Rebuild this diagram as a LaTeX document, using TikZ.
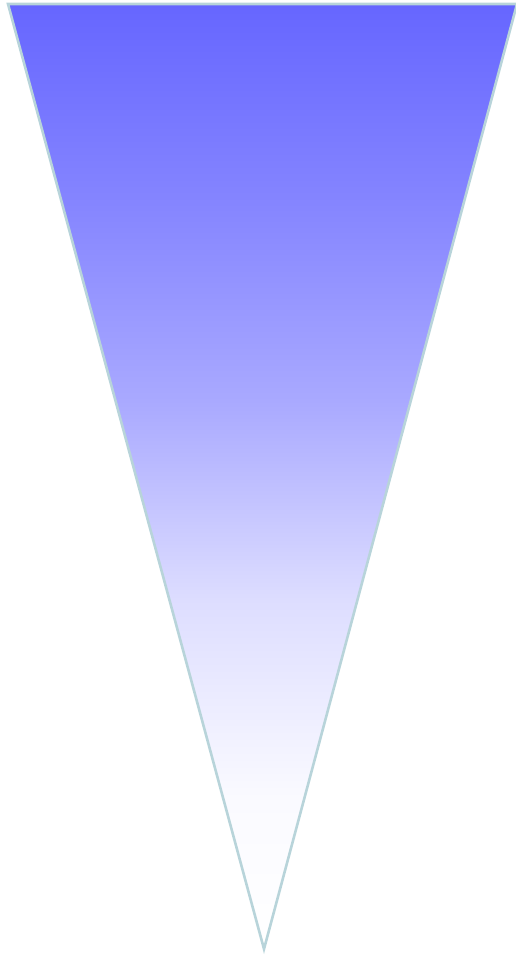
\documentclass[tikz,border=0pt]{standalone}
\usepackage{tikz}
\definecolor{topblue}{HTML}{6666FF}
\definecolor{edgecol}{HTML}{B8D4DA}
\definecolor{gA}{HTML}{FAFAFF}
\definecolor{gB}{HTML}{DDDDFF}
\definecolor{gC}{HTML}{A9A9FF}
\definecolor{gD}{HTML}{8585FF}
\pgfdeclareverticalshading{fadeblue}{100bp}{%
  color(0bp)=(white);
  color(25bp)=(white);
  color(33bp)=(gA);
  color(43.5bp)=(gB);
  color(54bp)=(gC);
  color(64.5bp)=(gD);
  color(75bp)=(topblue);
  color(100bp)=(topblue)}
\tikzset{tri/.style={draw=edgecol,line width=2.6pt,line join=miter,shading=fadeblue}}
\begin{document}
\begin{tikzpicture}[x=1pt,y=-1pt]
\useasboundingbox (0,0) rectangle (515,956);
\coordinate (tl) at (8,4);
\coordinate (tr) at (517,4);
\coordinate (bt) at (264,949);
\draw[tri] (tl) -- (tr) -- (bt) -- cycle;
\end{tikzpicture}
\end{document}
